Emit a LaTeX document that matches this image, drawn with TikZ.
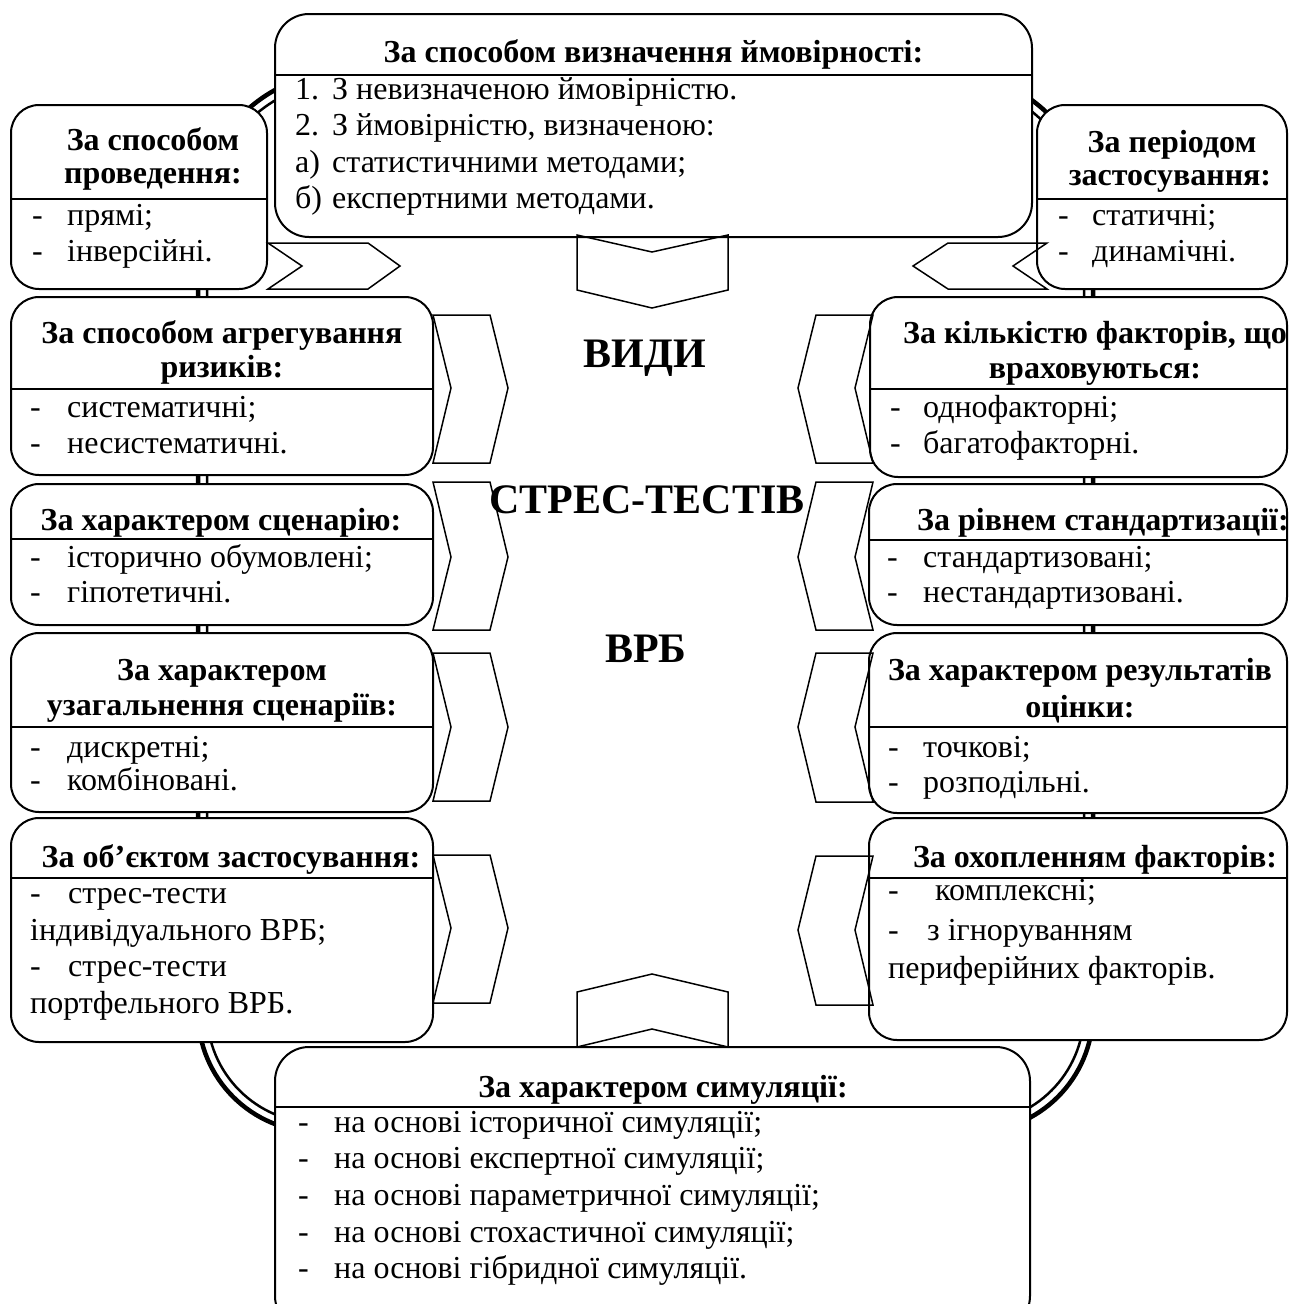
\documentclass[tikz,border=0pt]{standalone}
\usepackage{fontspec}
\setmainfont{Liberation Serif}
\newcommand\myhdr{\fontsize{32}{35}\selectfont\bfseries}
\newcommand\myitm{\fontsize{32}{36}\selectfont}
\newcommand\mybig{\fontsize{42}{46}\selectfont\bfseries}
\begin{document}
\begin{tikzpicture}[x=1pt,y=-1pt,
  box/.style={draw=black,line width=2pt,fill=white,rounded corners=28pt},
  bigbox/.style={draw=black,line width=2pt,fill=white,rounded corners=34pt},
  divl/.style={draw=black,line width=2pt},
  chev/.style={draw=black,line width=1.5pt,line join=miter},
  hd/.style={font=\myhdr,anchor=base,inner sep=0pt},
  hdw/.style={font=\myhdr,anchor=base west,inner sep=0pt},
  it/.style={font=\myitm,anchor=base west,inner sep=0pt},
  ctr/.style={font=\mybig,anchor=base,inner sep=0pt}]
\useasboundingbox (0,0) rectangle (1289,1304);
\clip (0,0) rectangle (1289,1304);
\fill[white] (0,0) rectangle (1289,1304);
% ring (double line)
\draw[line width=4.5pt] (198,220.5) .. controls (198,138.2) and (264.7,71.5) .. (347,71.5)
  -- (944,71.5) .. controls (1026.3,71.5) and (1093,138.2) .. (1093,220.5)
  -- (1093,1012) .. controls (1093,1078.3) and (1039.3,1132) .. (973,1132)
  -- (318,1132) .. controls (251.7,1132) and (198,1078.3) .. (198,1012) -- cycle;
\draw[line width=2.5pt] (207,220.5) .. controls (207,143.2) and (269.7,80.5) .. (347,80.5)
  -- (944,80.5) .. controls (1021.3,80.5) and (1084,143.2) .. (1084,220.5)
  -- (1084,1012) .. controls (1084,1073.3) and (1034.3,1123) .. (973,1123)
  -- (318,1123) .. controls (256.7,1123) and (207,1073.3) .. (207,1012) -- cycle;
% boxes
\draw[bigbox] (275,14) rectangle (1032,237);
\draw[divl] (275,75) -- (1032,75);
\draw[box] (11,105) rectangle (267,289);
\draw[divl] (11,199) -- (267,199);
\draw[box] (11,297) rectangle (433,475);
\draw[divl] (11,389) -- (433,389);
\draw[box] (11,484) rectangle (433,625);
\draw[divl] (11,539) -- (433,539);
\draw[box] (11,633) rectangle (433,812);
\draw[divl] (11,727) -- (433,727);
\draw[box] (11,818) rectangle (433,1042);
\draw[divl] (11,878) -- (433,878);
\draw[box] (1037,105) rectangle (1287,289);
\draw[divl] (1037,199) -- (1287,199);
\draw[box] (870,297) rectangle (1287,477);
\draw[divl] (870,389) -- (1287,389);
\draw[box] (869,484) rectangle (1287,625);
\draw[divl] (869,540) -- (1287,540);
\draw[box] (869,633) rectangle (1287,813);
\draw[divl] (869,727) -- (1287,727);
\draw[box] (869,818) rectangle (1287,1040);
\draw[divl] (869,878) -- (1287,878);
\draw[bigbox] (275,1047) rectangle (1030,1330);
\draw[divl] (275,1107) -- (1030,1107);
% chevrons
\draw[chev] (268,243) -- (368,243) -- (400,266) -- (368,289) -- (268,289) -- (302,266) -- cycle;
\draw[chev] (1047,243) -- (948,243) -- (913,266) -- (948,289) -- (1047,289) -- (1013,266) -- cycle;
\draw[chev] (577,235) -- (652,252) -- (728,235) -- (728,290) -- (652,308) -- (577,290) -- cycle;
\draw[chev] (577,1047) -- (652,1029) -- (728,1047) -- (728,992) -- (652,974) -- (577,992) -- cycle;
\foreach \a/\b/\c in {315/388/463,482/557/630,653/727/801,855/928/1003}
  \draw[chev] (433,\a) -- (490,\a) -- (508,\b) -- (490,\c) -- (433,\c) -- (451,\b) -- cycle;
\foreach \a/\b/\c in {315/388/463,482/557/630,653/727/802,856/930/1005}
  \draw[chev] (873,\a) -- (816,\a) -- (798,\b) -- (816,\c) -- (873,\c) -- (855,\b) -- cycle;
% top box text
\node[hd] (th) at (653.5,62) {За способом визначення ймовірності:};
\node[it] (t1n) at (295,99) {1.};
\node[it] (t1) at (332,99) {З невизначеною ймовірністю.};
\node[it] (t2n) at (295,135) {2.};
\node[it] (t2) at (332,135) {З ймовірністю, визначеною:};
\node[it] (t3n) at (295,172) {а)};
\node[it] (t3) at (332,172) {статистичними методами;};
\node[it] (t4n) at (295,208) {б)};
\node[it] (t4) at (332,208) {експертними методами.};
% L1
\node[hd] (l1h1) at (153,150) {За способом};
\node[hd] (l1h2) at (153,183) {проведення:};
\node[it] (l1d1) at (32,225) {-};
\node[it] (l1a) at (67,225) {прямі;};
\node[it] (l1d2) at (32,261) {-};
\node[it] (l1b) at (67,261) {інверсійні.};
% L2
\node[hd] (l2h1) at (222,343) {За способом агрегування};
\node[hd] (l2h2) at (222,377) {ризиків:};
\node[it] (l2d1) at (30,417) {-};
\node[it] (l2a) at (67,417) {систематичні;};
\node[it] (l2d2) at (30,453) {-};
\node[it] (l2b) at (67,453) {несистематичні.};
% L3
\node[hd] (l3h1) at (221,530) {За характером сценарію:};
\node[it] (l3d1) at (30,567) {-};
\node[it] (l3a) at (67,567) {історично обумовлені;};
\node[it] (l3d2) at (30,602) {-};
\node[it] (l3b) at (67,602) {гіпотетичні.};
% L4
\node[hd] (l4h1) at (222,680) {За характером};
\node[hd] (l4h2) at (222,715) {узагальнення сценаріїв:};
\node[it] (l4d1) at (30,757) {-};
\node[it] (l4a) at (67,757) {дискретні;};
\node[it] (l4d2) at (30,790) {-};
\node[it] (l4b) at (67,790) {комбіновані.};
% L5
\node[hd] (l5h1) at (231,867) {За об’єктом застосування:};
\node[it] (l5d1) at (30,903) {-};
\node[it] (l5a) at (68,903) {стрес-тести};
\node[it] (l5b) at (30,940) {індивідуального ВРБ;};
\node[it] (l5d2) at (30,976) {-};
\node[it] (l5c) at (68,976) {стрес-тести};
\node[it] (l5e) at (30,1013) {портфельного ВРБ.};
% R1
\node[hd] (r1h1) at (1172,152) {За періодом};
\node[hd] (r1h2) at (1170,185) {застосування:};
\node[it] (r1d1) at (1058,225) {-};
\node[it] (r1a) at (1092,225) {статичні;};
\node[it] (r1d2) at (1058,261) {-};
\node[it] (r1b) at (1092,261) {динамічні.};
% R2
\node[hd] (r2h1) at (1095,343) {За кількістю факторів, що};
\node[hd] (r2h2) at (1095,378) {враховуються:};
\node[it] (r2d1) at (890,417) {-};
\node[it] (r2a) at (923,417) {однофакторні;};
\node[it] (r2d2) at (890,453) {-};
\node[it] (r2b) at (923,453) {багатофакторні.};
% R3
\node[hdw] (r3h1) at (917,530) {За рівнем стандартизації:};
\node[it] (r3d1) at (887,567) {-};
\node[it] (r3a) at (923,567) {стандартизовані;};
\node[it] (r3d2) at (887,602) {-};
\node[it] (r3b) at (923,602) {нестандартизовані.};
% R4
\node[hd] (r4h1) at (1080,680) {За характером результатів};
\node[hd] (r4h2) at (1080,717) {оцінки:};
\node[it] (r4d1) at (888,757) {-};
\node[it] (r4a) at (923,757) {точкові;};
\node[it] (r4d2) at (888,792) {-};
\node[it] (r4b) at (923,792) {розподільні.};
% R5
\node[hd] (r5h1) at (1095,867) {За охопленням факторів:};
\node[it] (r5d1) at (888,900) {-};
\node[it] (r5a) at (935,900) {комплексні;};
\node[it] (r5d2) at (888,940) {-};
\node[it] (r5b) at (927,940) {з ігноруванням};
\node[it] (r5c) at (888,978) {периферійних факторів.};
% bottom box
\node[hd] (bh) at (663,1097) {За характером симуляції:};
\foreach \y/\t [count=\i] in {1132/{на основі історичної симуляції;},1168/{на основі експертної симуляції;},1205/{на основі параметричної симуляції;},1242/{на основі стохастичної симуляції;},1278/{на основі гібридної симуляції.}}{
  \node[it] (bd\i) at (298,\y) {-};
  \node[it] (b\i) at (334,\y) {\t};
}
% centre title
\node[ctr] (c1) at (645,367) {ВИДИ};
\node[ctr] (c2) at (647,513) {СТРЕС-ТЕСТІВ};
\node[ctr] (c3) at (646,662) {ВРБ};
\end{tikzpicture}
\end{document}
